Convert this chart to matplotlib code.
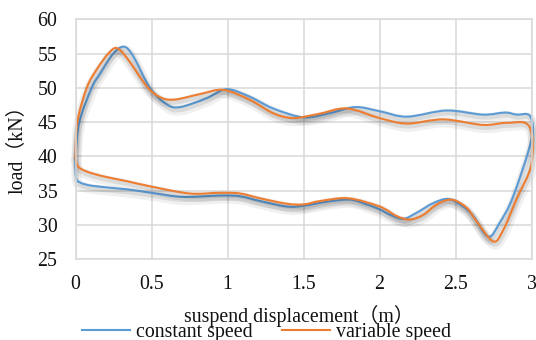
import matplotlib
matplotlib.use("Agg")
import matplotlib.pyplot as plt
from matplotlib.path import Path
from matplotlib.patches import PathPatch
from matplotlib.lines import Line2D
import matplotlib.patheffects as pe
import numpy as np

# Hysteresis loops: upper branch 0 -> 3 m, then lower branch back 3 -> 0 m
const_disp = [0.0, 0.025, 0.107, 0.16, 0.249, 0.319, 0.38, 0.49, 0.6, 0.69,
              0.863, 0.995, 1.148, 1.3, 1.5, 1.67, 1.84, 2.0, 2.18, 2.44, 2.68, 2.826, 2.9, 2.99,
              3.0, 2.88, 2.79, 2.716, 2.617, 2.55, 2.453, 2.354, 2.245, 2.157, 2.07, 2.0,
              1.916, 1.806, 1.653, 1.5, 1.39, 1.214, 1.082, 0.951, 0.7, 0.5, 0.337, 0.117,
              0.03, 0.003, 0.0]
const_load = [40.0, 45.0, 50.0, 52.0, 55.0, 56.0, 54.6, 50.0, 47.6, 47.2,
              48.5, 49.8, 48.7, 47.0, 45.7, 46.3, 47.2, 46.6, 45.8, 46.7, 46.1, 46.4, 46.1, 45.9,
              42.5, 34.2, 30.3, 28.3, 31.3, 32.7, 33.8, 33.2, 31.8, 30.9, 31.5, 32.3,
              33.0, 33.7, 33.4, 32.8, 32.7, 33.5, 34.2, 34.3, 34.1, 34.7, 35.2, 35.7,
              36.2, 37.0, 40.0]

var_disp = [0.0, 0.012, 0.074, 0.14, 0.216, 0.271, 0.34, 0.47, 0.56, 0.655,
            0.82, 0.973, 1.148, 1.3, 1.433, 1.6, 1.785, 2.0, 2.18, 2.42, 2.68, 2.84, 2.985,
            3.0, 2.9, 2.815, 2.749, 2.64, 2.574, 2.476, 2.377, 2.29, 2.2, 2.113, 2.0,
            1.795, 1.61, 1.5, 1.39, 1.214, 1.082, 0.951, 0.75, 0.5, 0.337, 0.183, 0.074,
            0.018, 0.003, 0.0]
var_load = [40.0, 45.0, 50.0, 52.7, 55.0, 55.8, 54.3, 50.2, 48.6, 48.3,
            49.1, 49.7, 48.25, 46.3, 45.6, 46.2, 47.0, 45.6, 44.8, 45.4, 44.6, 44.9, 44.4,
            38.9, 33.7, 29.3, 27.6, 30.5, 32.5, 33.7, 33.0, 31.5, 30.8, 31.3, 32.7,
            33.9, 33.5, 33.0, 33.1, 33.9, 34.6, 34.7, 34.6, 35.6, 36.4, 37.1, 37.8,
            38.5, 39.5, 40.0]

series_names = ["constant speed", "variable speed"]
series_colors = ["#5B9BD5", "#ED7D31"]

x_ticks = [0, 0.5, 1, 1.5, 2, 2.5, 3]
x_tick_labels = ["0", "0.5", "1", "1.5", "2", "2.5", "3"]
y_ticks = [25, 30, 35, 40, 45, 50, 55, 60]

x_label = "suspend displacement（m）"
y_label = "load（kN）"

FONT = ["Liberation Serif", "Noto Sans CJK SC"]
FS = 14.3


def smooth_path(xs, ys):
    """Cardinal (Catmull-Rom) spline through the points as cubic Bezier segments."""
    p = np.column_stack([xs, ys]).astype(float)
    n = len(p)
    verts = [p[0]]
    codes = [Path.MOVETO]
    for i in range(n - 1):
        p0 = p[i - 1] if i > 0 else p[i]
        p1 = p[i]
        p2 = p[i + 1]
        p3 = p[i + 2] if i + 2 < n else p[i + 1]
        c1 = p1 + (p2 - p0) / 6.0
        c2 = p2 - (p3 - p1) / 6.0
        verts += [c1, c2, p2]
        codes += [Path.CURVE4] * 3
    return Path(np.array(verts), codes)


W, H = 536, 340
fig = plt.figure(figsize=(W / 100, H / 100), dpi=100)
x0, x1, ytop, ybot = 75.5, 531.5, 19.3, 259.3
ax = fig.add_axes([x0 / W, 1 - ybot / H, (x1 - x0) / W, (ybot - ytop) / H])

ax.set_xlim(0, 3)
ax.set_ylim(25, 60)
ax.set_xticks(x_ticks)
ax.set_xticklabels(x_tick_labels)
ax.set_yticks(y_ticks)
ax.grid(True, color="#d9d9d9", linewidth=1.1)
ax.set_axisbelow(True)
for s in ax.spines.values():
    s.set_color("#d9d9d9")
    s.set_linewidth(1.1)
ax.tick_params(length=0, labelsize=FS, labelcolor="#111111")
ax.tick_params(axis="y", pad=13)
ax.tick_params(axis="x", pad=11)
for lab in ax.get_xticklabels() + ax.get_yticklabels():
    lab.set_family(FONT)

shadow = [
    pe.SimpleLineShadow(offset=(0.6, -2.4), shadow_color="black", alpha=0.06, linewidth=7),
    pe.SimpleLineShadow(offset=(0.4, -1.7), shadow_color="black", alpha=0.09, linewidth=3.8),
    pe.Normal(),
]

for xs, ys, col in [(const_disp, const_load, series_colors[0]),
                    (var_disp, var_load, series_colors[1])]:
    patch = PathPatch(smooth_path(xs, ys), facecolor="none", edgecolor=col,
                      linewidth=1.5, capstyle="round", joinstyle="round", clip_on=False)
    patch.set_path_effects(shadow)
    ax.add_patch(patch)

fig.text(299 / W, 1 - 321.7 / H, x_label, family=FONT, fontsize=FS,
         ha="center", va="baseline", color="#111111")
fig.text(17 / W, 1 - 145 / H, y_label, family=FONT, fontsize=FS,
         ha="center", va="center", rotation=90, color="#111111")

handles = [Line2D([], [], color=c, linewidth=1.5) for c in series_colors]
fig.legend(handles, series_names, loc="center", bbox_to_anchor=(266.7 / W, 1 - 332 / H),
           ncol=2, frameon=False, prop={"family": FONT, "size": FS},
           handlelength=2.4, handletextpad=0.3, columnspacing=1.5,
           borderpad=0, borderaxespad=0, labelcolor="#111111")

fig.savefig("out.png", dpi=100)
